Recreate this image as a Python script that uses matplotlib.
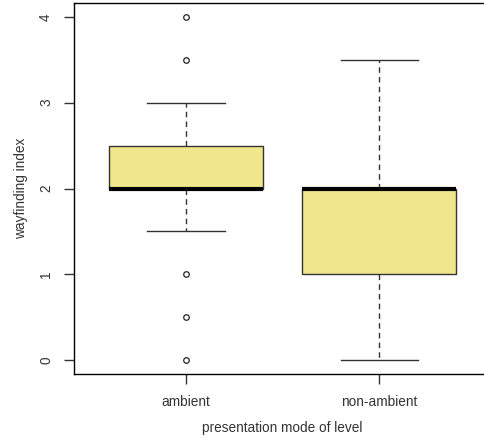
import matplotlib
matplotlib.use("Agg")
import matplotlib.pyplot as plt

# box statistics
groups = ["ambient", "non-ambient"]
q1 = [2.0, 1.0]
med = [2.0, 2.0]
q3 = [2.5, 2.0]
whislo = [1.5, 0.0]
whishi = [3.0, 3.5]
fliers = [[0.0, 0.5, 1.0, 3.5, 4.0], []]

plt.rcParams['font.family'] = ['Liberation Sans', 'DejaVu Sans']

stats = []
for i in range(len(groups)):
    stats.append(dict(label=groups[i], q1=q1[i], med=med[i], q3=q3[i],
                      whislo=whislo[i], whishi=whishi[i], fliers=fliers[i]))

fig = plt.figure(figsize=(4.84, 4.38), dpi=100)
ax = fig.add_axes([0.153, 0.146, 0.862, 0.847])

ax.bxp(stats, positions=[1, 2], widths=0.8, patch_artist=True,
       boxprops=dict(facecolor='#F0E68C', edgecolor='#333333', linewidth=1),
       medianprops=dict(color='black', linewidth=3, solid_capstyle='butt'),
       whiskerprops=dict(color='#333333', linestyle=(0, (4, 3)), linewidth=1),
       capprops=dict(color='#333333', linewidth=1),
       capwidths=0.4,
       flierprops=dict(marker='o', markersize=4, markerfacecolor='none',
                       markeredgecolor='#222222', markeredgewidth=0.9))

ax.set_xlim(0.42, 2.58)
ax.set_ylim(-0.16, 4.16)
ax.set_yticks([0, 1, 2, 3, 4])
ax.set_yticklabels(['0', '1', '2', '3', '4'], rotation=90, va='center')
ax.set_xticks([1, 2])
ax.set_xticklabels(groups)
ax.tick_params(direction='out', length=7, width=1, labelsize=9.8,
               colors='#333333', labelcolor='#333333')
ax.tick_params(axis='x', pad=8)
ax.tick_params(axis='y', pad=8)
for s in ax.spines.values():
    s.set_color('black')
    s.set_linewidth(1)

ax.set_ylabel('wayfinding index', fontsize=9.8, color='#333333', labelpad=8)
ax.set_xlabel('presentation mode of level', fontsize=9.8, color='#333333', labelpad=9)

fig.savefig('out.png', dpi=100)
